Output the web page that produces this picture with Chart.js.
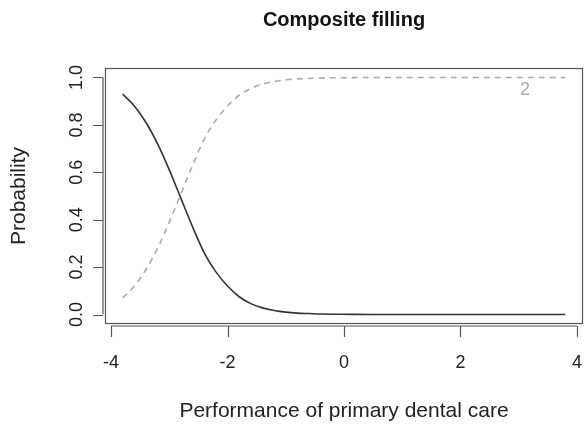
<!DOCTYPE html>
<html>
<head>
<meta charset="utf-8">
<script src="https://cdn.jsdelivr.net/npm/chart.js@4/dist/chart.umd.min.js"></script>
<style>
  html, body { margin: 0; padding: 0; background: #fff; }
  #wrap { width: 584px; height: 430px; }
</style>
</head>
<body>
<div id="wrap"><canvas id="myChart" width="584" height="430"></canvas></div>
<script>
// ---- data ----
let chart_title = "Composite filling";
let x_title = "Performance of primary dental care";
let y_title = "Probability";

let x_vals = [-3.8, -3.6, -3.4, -3.2, -3.0, -2.8, -2.6, -2.4, -2.2, -2.0, -1.8, -1.6, -1.4, -1.2, -1.0, -0.8, -0.6, -0.4, 0.0, 0.5, 1.0, 2.0, 3.0, 3.8];
let cat1_vals = [0.93, 0.88, 0.81, 0.72, 0.61, 0.49, 0.37, 0.26, 0.18, 0.12, 0.075, 0.046, 0.028, 0.017, 0.010, 0.006, 0.004, 0.002, 0.001, 0.0, 0.0, 0.0, 0.0, 0.0];
let cat2_vals = [0.07, 0.12, 0.19, 0.28, 0.39, 0.51, 0.63, 0.74, 0.82, 0.88, 0.925, 0.954, 0.972, 0.983, 0.990, 0.994, 0.996, 0.998, 0.999, 1.0, 1.0, 1.0, 1.0, 1.0];

let x_ticks = [-4, -2, 0, 2, 4];
let y_ticks = [0, 0.2, 0.4, 0.6, 0.8, 1.0];
let y_tick_labels = ["0.0", "0.2", "0.4", "0.6", "0.8", "1.0"];

let curve_label = "2";
let curve_label_at = { x: 3.11, y: 0.945 };

// --------------------------------

function to_points(xs, ys) {
  return xs.map((x, i) => ({ x: x, y: ys[i] }));
}

let font_name = "'Liberation Sans', Arial, sans-serif";

// R style frame, axes and labels
let r_axes = {
  id: "r_axes",
  afterDraw(chart) {
    let ctx = chart.ctx;
    let a = chart.chartArea;
    let xs = chart.scales.x;
    let ys = chart.scales.y;
    ctx.save();
    ctx.strokeStyle = "#555";
    ctx.lineWidth = 1.2;
    ctx.strokeRect(a.left + 0.5, a.top + 0.5, a.right - a.left - 1, a.bottom - a.top - 1);

    // x axis
    ctx.beginPath();
    ctx.moveTo(xs.getPixelForValue(x_ticks[0]), a.bottom + 2);
    ctx.lineTo(xs.getPixelForValue(x_ticks[x_ticks.length - 1]), a.bottom + 2);
    x_ticks.forEach((t) => {
      let px = Math.round(xs.getPixelForValue(t)) + 0.5;
      ctx.moveTo(px, a.bottom + 2);
      ctx.lineTo(px, a.bottom + 13);
    });
    // y axis
    ctx.moveTo(a.left - 2, ys.getPixelForValue(y_ticks[0]));
    ctx.lineTo(a.left - 2, ys.getPixelForValue(y_ticks[y_ticks.length - 1]));
    y_ticks.forEach((t) => {
      let py = Math.round(ys.getPixelForValue(t)) + 0.5;
      ctx.moveTo(a.left - 2, py);
      ctx.lineTo(a.left - 12, py);
    });
    ctx.stroke();

    ctx.fillStyle = "#222";
    ctx.font = "18px " + font_name;
    ctx.textAlign = "center";
    ctx.textBaseline = "middle";
    x_ticks.forEach((t) => {
      ctx.fillText(String(t), xs.getPixelForValue(t), a.bottom + 39);
    });
    y_ticks.forEach((t, i) => {
      ctx.save();
      ctx.translate(77, ys.getPixelForValue(t));
      ctx.rotate(-Math.PI / 2);
      ctx.fillText(y_tick_labels[i], 0, 0);
      ctx.restore();
    });

    ctx.font = "21px " + font_name;
    ctx.fillText(x_title, (a.left + a.right) / 2, 411);
    ctx.save();
    ctx.translate(19, (a.top + a.bottom) / 2);
    ctx.rotate(-Math.PI / 2);
    ctx.fillText(y_title, 0, 0);
    ctx.restore();

    ctx.fillStyle = "#aaa";
    ctx.font = "18px " + font_name;
    ctx.fillText(curve_label, xs.getPixelForValue(curve_label_at.x), ys.getPixelForValue(curve_label_at.y));
    ctx.restore();
  }
};

new Chart("myChart", {
  type: "line",
  data: {
    datasets: [
      {
        data: to_points(x_vals, cat1_vals),
        borderColor: "#333",
        borderWidth: 1.6,
        pointRadius: 0,
        cubicInterpolationMode: "monotone",
        fill: false
      },
      {
        data: to_points(x_vals, cat2_vals),
        borderColor: "#aaa",
        borderWidth: 1.6,
        borderDash: [6, 5],
        pointRadius: 0,
        cubicInterpolationMode: "monotone",
        fill: false
      }
    ]
  },
  options: {
    responsive: false,
    animation: false,
    layout: { padding: { left: 105, right: 1, top: 0, bottom: 106 } },
    plugins: {
      legend: { display: false },
      tooltip: { enabled: false },
      title: {
        display: true,
        text: chart_title,
        fullSize: false,
        color: "#111",
        font: { family: font_name, size: 20, weight: "bold" },
        padding: { top: 8, bottom: 36 }
      }
    },
    scales: {
      x: { type: "linear", min: -4.104, max: 4.104, display: false },
      y: { type: "linear", min: -0.04, max: 1.04, display: false }
    }
  },
  plugins: [r_axes]
});
</script>
</body>
</html>
